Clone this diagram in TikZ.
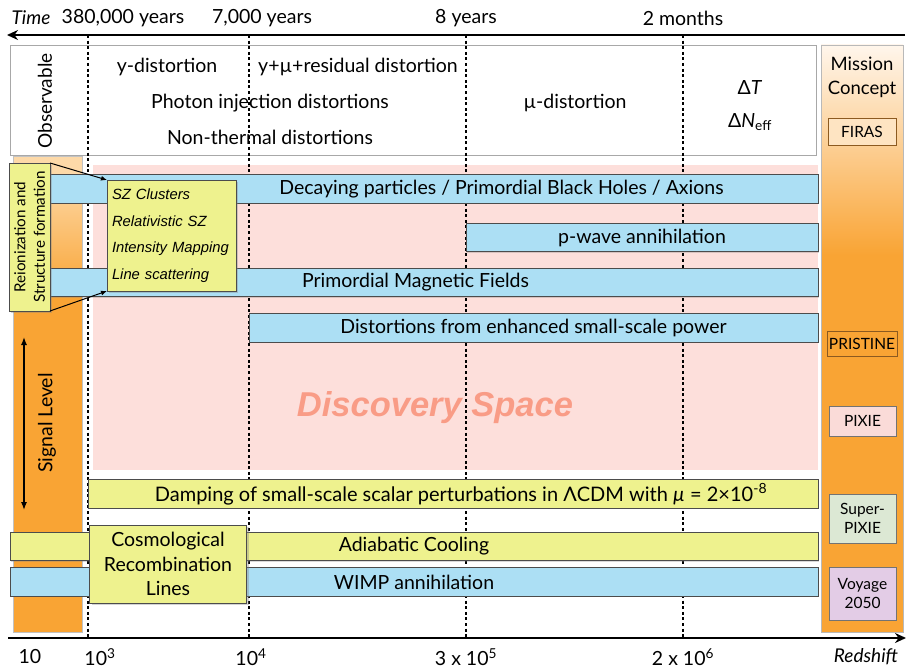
\documentclass[tikz,border=0pt]{standalone}
\usepackage{fontspec}
\setmainfont{Lato}
\newfontfamily\arialfont{Liberation Sans}
\usetikzlibrary{arrows.meta,positioning,shadows}
\definecolor{barblue}{HTML}{ACDFF4}
\definecolor{baryellow}{HTML}{EEF28E}
\definecolor{sigorange}{HTML}{F9A434}
\definecolor{palepeach}{HTML}{FDD9A8}
\definecolor{paperwhite}{HTML}{FFF6EC}
\definecolor{discpink}{HTML}{FDDFDB}
\definecolor{discsalmon}{HTML}{F99C86}
\definecolor{pixiepink}{HTML}{FADBD8}
\definecolor{supergreen}{HTML}{DCE8D4}
\definecolor{voyagelilac}{HTML}{E3CCE6}
\definecolor{framegray}{HTML}{A8A8A8}
\definecolor{missionbrown}{HTML}{8C5A20}

\begin{document}
\begin{tikzpicture}[x=1pt,y=-1pt,
every node/.style={inner sep=0pt,outer sep=0pt,font=\fontsize{19.5}{22}\selectfont},
bar/.style={draw=black!70,line width=0.9pt,minimum height=28.5pt,drop shadow={shadow xshift=1.2pt,shadow yshift=-1.2pt,opacity=0.3}},
bluebar/.style={bar,fill=barblue},
yellowbar/.style={bar,fill=baryellow},
notebox/.style={draw=black!70,line width=0.9pt,fill=baryellow,drop shadow={shadow xshift=2pt,shadow yshift=-2pt,opacity=0.35}},
missionbox/.style={draw=#1,line width=1pt,align=center,font=\fontsize{15.5}{18.5}\selectfont},
missionbox/.default=black!55,
axislabel/.style={font=\fontsize{19.5}{22}\selectfont},
obstext/.style={font=\fontsize{19.5}{22}\selectfont},
pointer/.style={line width=1pt,-{Latex[length=6pt,width=5pt]}},
axis/.style={line width=2.6pt,-{Stealth[length=11pt,width=10pt]}}]
\useasboundingbox (0,0) rectangle (907,669);

% columns left and right
\shade[top color=palepeach,bottom color=sigorange] (13,175) rectangle (82,295);
\fill[palepeach] (13,156) rectangle (82,175.5);
\fill[sigorange] (13,294.5) rectangle (82,632);
\draw[framegray!70,line width=0.8pt] (13,156) rectangle (82,632);
\shade[top color=paperwhite,bottom color=sigorange] (821,45) rectangle (903,255);
\fill[sigorange] (821,254.5) rectangle (903,632);
\draw[framegray!80,line width=0.9pt] (821,45) rectangle (903,632);

% observable box
\node[draw=framegray,fill=white,line width=1pt,minimum width=806pt,minimum height=109pt] (obs) at (413,100.5) {};
\node[rotate=90,font=\fontsize{19}{22}\selectfont] (obslabel) at (45,101) {Observable};
\node[obstext] (ydist) at (167,67) {y-distortion};
\node[obstext] (ymures) at (358,67) {y+µ+residual distortion};
\node[obstext] (photinj) at (270,103) {Photon injection distortions};
\node[obstext] (nonth) at (270,137) {Non-thermal distortions};
\node[obstext] (mudist) at (575,103) {µ-distortion};
\node[obstext] (dT) at (750,88) {Δ\textit{T}};
\node[obstext] (dNeff) at (750,122) {Δ\textit{N}\textsubscript{eff}};

% discovery space
\fill[discpink] (93,165) rectangle (818,470);
\node[font=\arialfont\bfseries\itshape\fontsize{34.5}{40}\selectfont,text=discsalmon] (disc) at (435,408) {Discovery Space};

% epochs
\foreach \x in {88,249,466,683}
  \draw[line width=1.6pt,dash pattern=on 3pt off 2.6pt] (\x,35) -- (\x,638);

% time and redshift axes
\coordinate (timeR) at (905,35);
\coordinate (timeL) at (7,35);
\coordinate (zL) at (8,638);
\coordinate (zR) at (906,638);
\draw[axis] (timeR) -- (timeL);
\draw[axis] (zL) -- (zR);
\node[axislabel,font=\fontsize{19}{22}\selectfont\itshape] (time) at (31,18) {Time};
\node[axislabel] (t380k) at (123,18) {380,000 years};
\node[axislabel] (t7k) at (262,18) {7,000 years};
\node[axislabel] (t8y) at (466,18) {8 years};
\node[axislabel] (t2m) at (683,18) {2 months};
\node[axislabel] (z10) at (30,657) {10};
\node[axislabel] (z1e3) at (100,657) {10\textsuperscript{3}};
\node[axislabel] (z1e4) at (251,657) {10\textsuperscript{4}};
\node[axislabel] (z3e5) at (466,657) {3 x 10\textsuperscript{5}};
\node[axislabel] (z2e6) at (683,657) {2 x 10\textsuperscript{6}};
\node[axislabel,font=\fontsize{19}{22}\selectfont\itshape] (zlabel) at (866,657) {Redshift};

% processes
\node[bluebar,minimum width=805pt] (decay) at (415.5,189) {};
\node (decaytxt) at ([xshift=86pt]decay.center) {Decaying particles / Primordial Black Holes / Axions};
\node[bluebar,minimum width=352pt] (pwave) at (642,237.5) {p-wave annihilation};
\node[bluebar,minimum width=805pt] (pmf) at (415.5,282.5) {Primordial Magnetic Fields};
\node[bluebar,minimum width=569pt] (power) at (533.5,328) {Distortions from enhanced small-scale power};
\node[yellowbar,minimum width=730pt] (damping) at (453,494) {};
\node[font=\fontsize{20}{22}\selectfont] (dampingtxt) at ([xshift=8pt]damping.center) {Damping of small-scale scalar perturbations in ΛCDM with \textit{µ} = 2×10\textsuperscript{-8}};
\node[yellowbar,minimum width=808pt] (cooling) at (414,546.5) {Adiabatic Cooling};
\node[bluebar,minimum width=808pt] (wimp) at (414,582) {WIMP annihilation};

% late-time boxes
\node[notebox,minimum width=157pt,minimum height=78pt,align=center,font=\fontsize{19.5}{24.5}\selectfont] (recomb) at (168,564) {Cosmological\\Recombination\\Lines};
\node[notebox,minimum width=129pt,minimum height=111pt,text width=119pt,align=left,font=\arialfont\itshape\fontsize{14.8}{26.5}\selectfont] (sz) at (171.5,235.5) {SZ Clusters\\Relativistic SZ\\Intensity Mapping\\Line scattering};
\node[notebox,minimum width=41pt,minimum height=148pt] (reion) at (29.5,237) {};
\node[rotate=90,align=center,font=\fontsize{15.2}{19.5}\selectfont] (reiontxt) at (reion.center) {Reionization and\\Structure formation};
\draw[pointer] (reion.north east) -- (sz.north west);
\draw[pointer] (reion.south east) -- (sz.south west);

% signal level
\coordinate (sigtop) at (24,337);
\coordinate (sigbot) at (24,510);
\draw[line width=1.3pt,{Latex[length=8pt,width=6pt]}-{Latex[length=8pt,width=6pt]}] (sigtop) -- (sigbot);
\node[rotate=90] (siglabel) at (47,423) {Signal Level};

% missions
\node[align=center,font=\fontsize{18.5}{24}\selectfont] (mission) at (862,77) {Mission\\Concept};
\node[missionbox=missionbrown,fill=palepeach!70,minimum width=68pt,minimum height=27pt] (firas) at (862,132) {FIRAS};
\node[missionbox=missionbrown,fill=sigorange,minimum width=70pt,minimum height=25pt] (pristine) at (862,343.5) {PRISTINE};
\node[missionbox,fill=pixiepink,minimum width=67pt,minimum height=30pt] (pixie) at (862.5,421) {PIXIE};
\node[missionbox,fill=supergreen,minimum width=67pt,minimum height=49pt] (superpixie) at (862.5,518.5) {Super-\\PIXIE};
\node[missionbox,fill=voyagelilac,minimum width=67pt,minimum height=53pt] (voyage) at (862.5,593.5) {Voyage\\2050};
\end{tikzpicture}
\end{document}
